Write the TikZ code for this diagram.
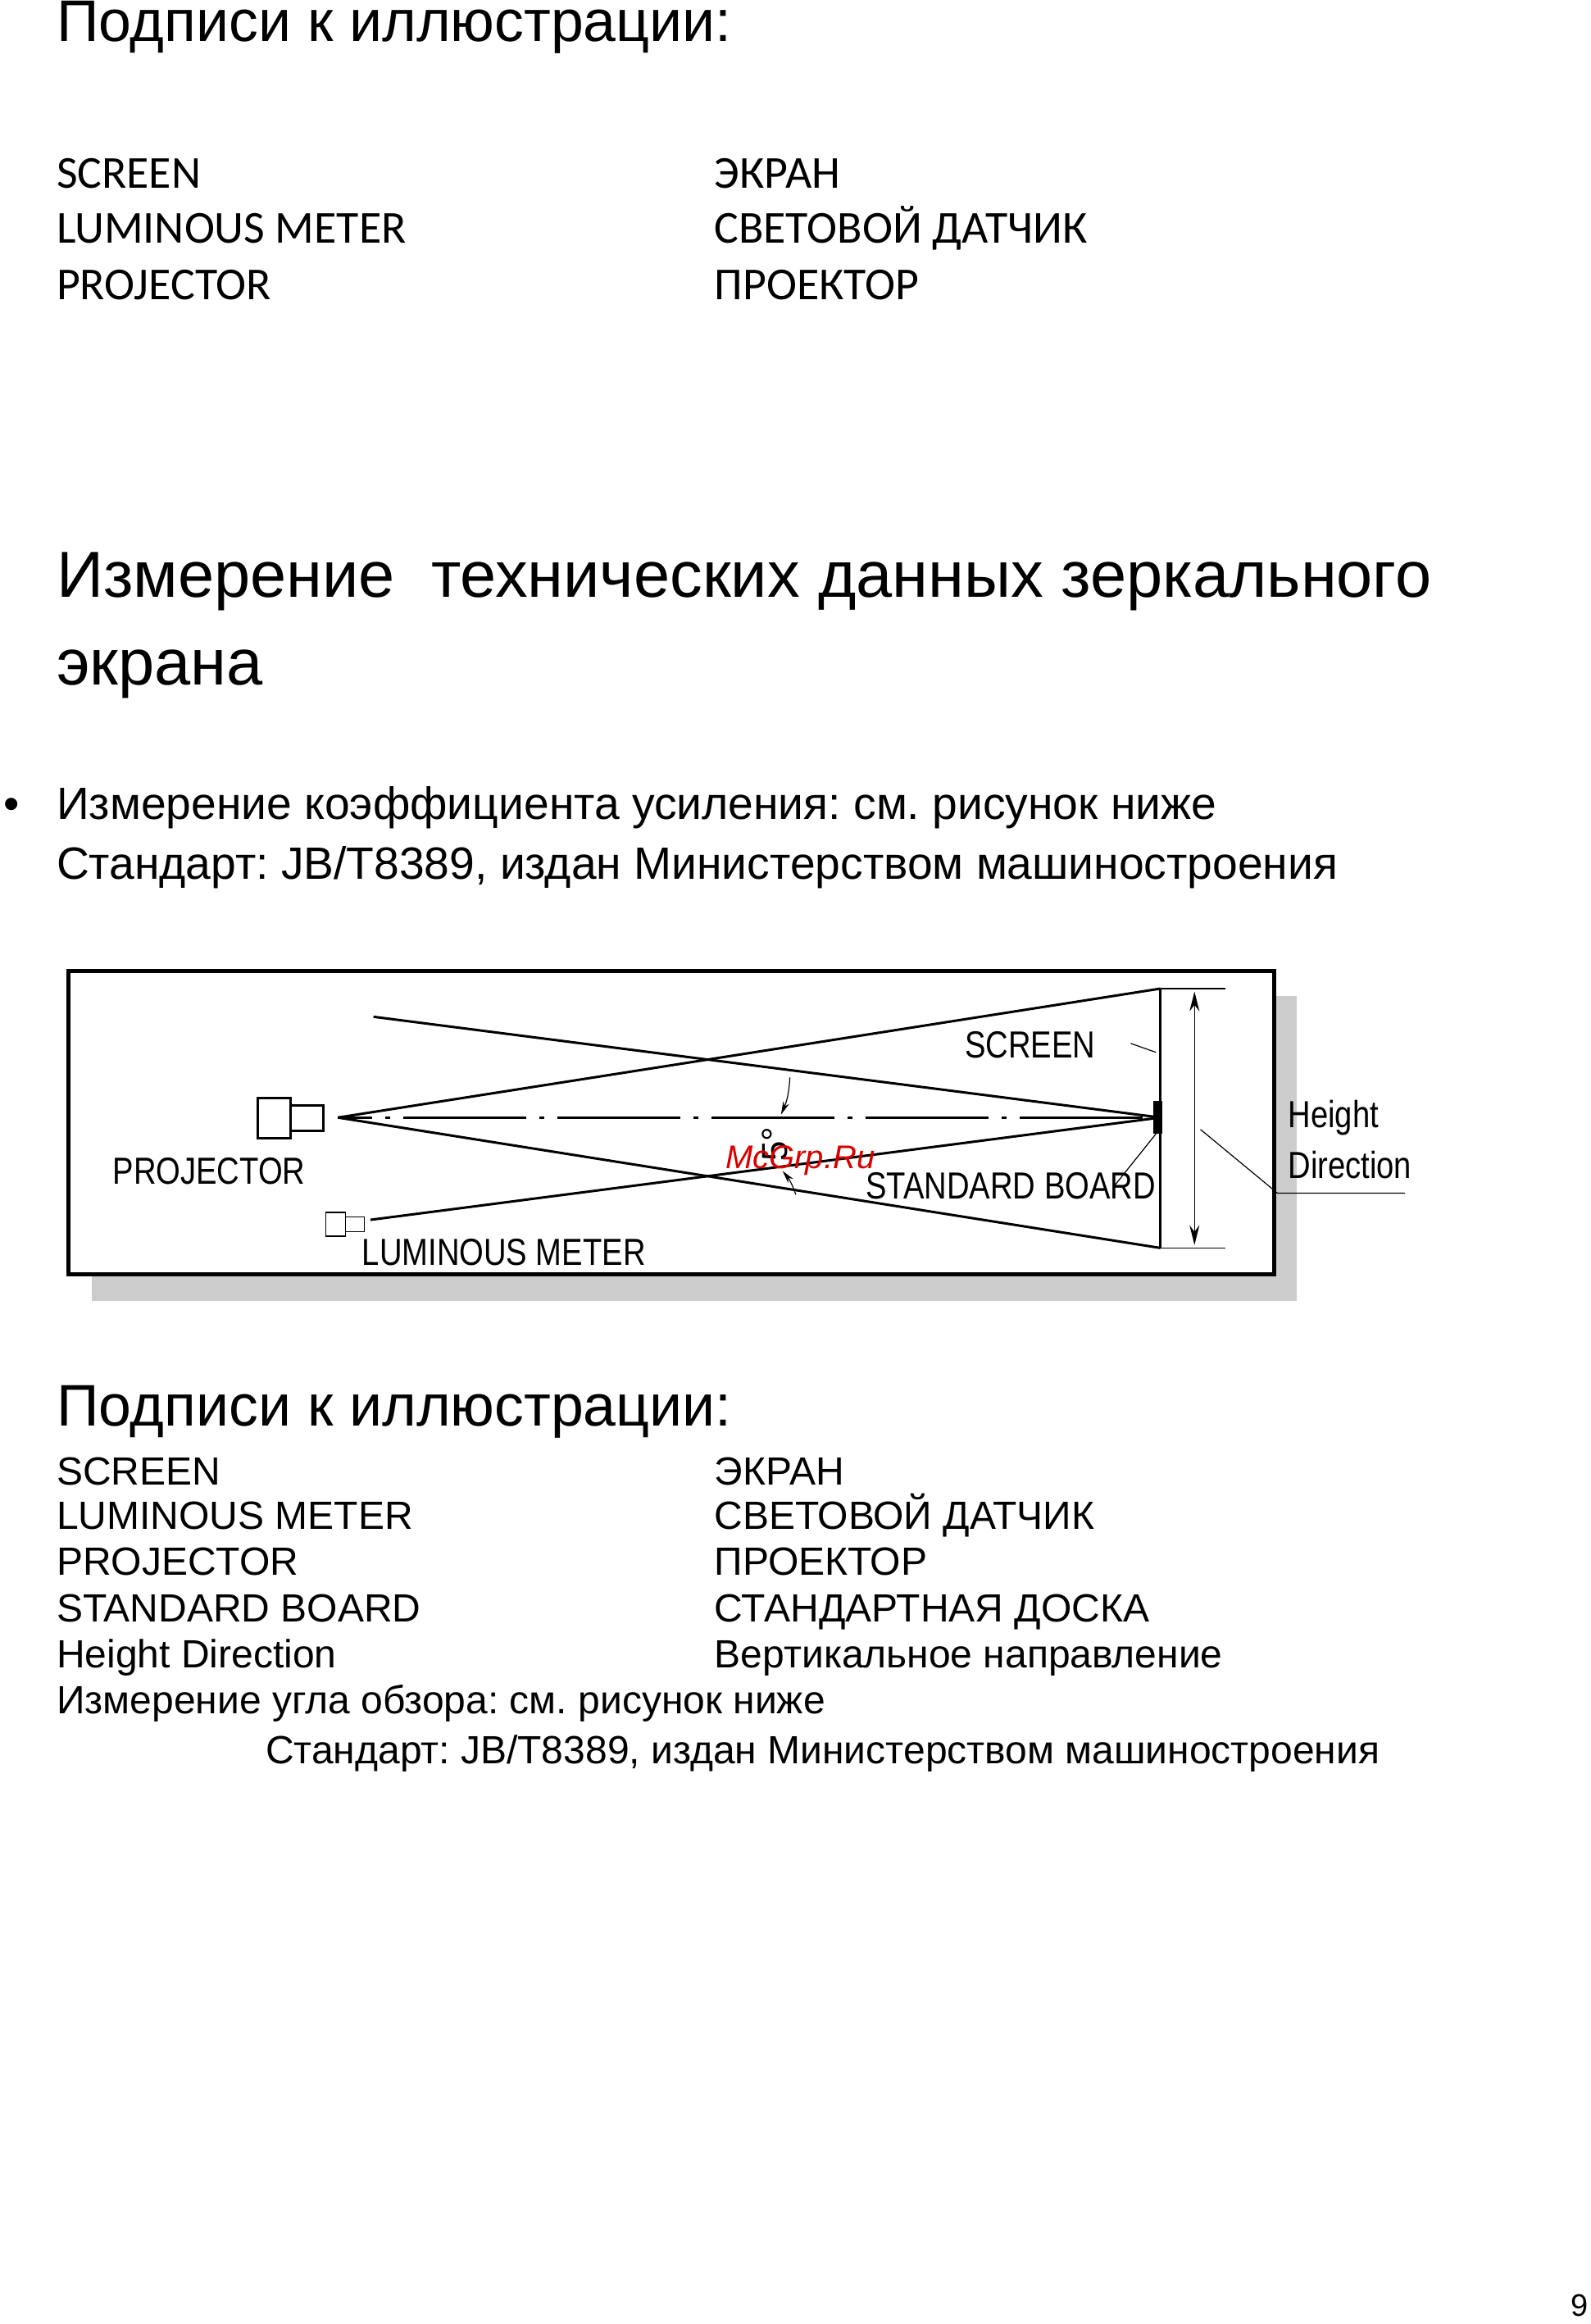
\documentclass[tikz,border=0pt]{standalone}
\usepackage{fontspec}
\setmainfont{Liberation Sans}
\newfontfamily\carl{Carlito}
\usetikzlibrary{arrows.meta}
\frenchspacing
\begin{document}
\begin{tikzpicture}[x=0.904pt,y=-0.904pt,
  txt/.style={anchor=base west,inner sep=0pt},
  big/.style={txt,font=\fontsize{35.8}{40}\selectfont},
  head/.style={txt,font=\fontsize{39.7}{46}\selectfont},
  body/.style={txt,font=\fontsize{27.6}{30}\selectfont},
  lst/.style={txt,font=\carl\fontsize{27.9}{32}\selectfont},
  small/.style={txt,font=\fontsize{24}{26}\selectfont},
  dlab/.style={inner sep=0pt,font=\fontsize{23}{26}\selectfont,xscale=0.83},
  ln/.style={line width=1.5pt},
  thin/.style={line width=0.6pt}]
\useasboundingbox (0,0) rectangle (1073,1568);
% top
\node[big] (t1) at (38,28) {Подписи к иллюстрации:};
\node[lst] (a1) at (38,127) {SCREEN};
\node[lst] (a2) at (38,164) {LUMINOUS METER};
\node[lst] (a3) at (38,202) {PROJECTOR};
\node[lst] (b1) at (482,127) {ЭКРАН};
\node[lst] (b2) at (482,164) {СВЕТОВОЙ ДАТЧИК};
\node[lst] (b3) at (482,202) {ПРОЕКТОР};
\node[head] (h1) at (38,403) {Измерение\ \ технических данных зеркального};
\node[head] (h2) at (38,462) {экрана};
\node[body] (bul) at (2,553) {•};
\node[body] (p1) at (38,553) {Измерение коэффициента усиления: см. рисунок ниже};
\node[body] (p2) at (38,593) {Стандарт: JB/T8389, издан Министерством машиностроения};
% diagram
\fill[black!20] (62,672) rectangle (875,878);
\filldraw[fill=white,line width=2.5pt] (46,655) rectangle (860,860);
\coordinate (A) at (228,754);
\coordinate (St) at (783,667);
\coordinate (Sb) at (783,842);
\coordinate (B) at (783,754);
\coordinate (U) at (252,686);
\coordinate (M) at (250,823);
\draw[ln] (St) -- (Sb);
\draw[ln] (A) -- (St);
\draw[ln] (A) -- (Sb);
\draw[ln] (U) -- (B);
\draw[ln] (M) -- (B);
\draw[ln,dash pattern=on 75pt off 8pt on 3pt off 8pt,dash phase=-40pt] (A) -- (B);
\fill (778,743) rectangle (784,765);
\draw[thin] (783,667) -- (827,667);
\draw[thin] (783,842) -- (827,842);
\coordinate (Ht) at (806,669);
\coordinate (Hb) at (806,840);
\draw[thin,{Stealth[length=12pt,width=6pt]}-{Stealth[length=12pt,width=6pt]}] (Ht) -- (Hb);
% projector icon
\draw[ln,fill=white] (174,741) rectangle (196,768);
\draw[ln,fill=white] (196,746) rectangle (218,763);
% meter icon
\draw[thin,fill=white] (220,818) rectangle (233,834);
\draw[thin,fill=white] (233,821) rectangle (246,831);
% labels
\node[dlab] (pj) at (141,790) {PROJECTOR};
\node[dlab] (lm) at (340,845) {LUMINOUS METER};
\node[dlab] (sc) at (695,705) {SCREEN};
\node[dlab] (sb) at (682,800) {STANDARD BOARD};
\node[dlab,anchor=base west] (hg) at (869,761) {Height};
\node[dlab,anchor=base west] (dr) at (869,795) {Direction};
\draw[thin] (763,704) -- (780,710);
\draw[thin] (780,765) -- (752,800);
\coordinate (ul) at (862,805);
\draw[thin] (810,762) -- (ul) -- (948,805);
% angle
\draw[thin,-{Stealth[length=8pt,width=4pt]}] (533,727) to[bend left=10] (527,752);
\draw[thin,-{Stealth[length=8pt,width=4pt]}] (537,806) to[bend right=10] (528,790);
\node[inner sep=0pt,rotate=90,font=\fontsize{22}{24}\selectfont] (ang) at (523,772) {5°};
\node[inner sep=0pt,text=red!85!black,font=\itshape\fontsize{20}{22}\selectfont] (wm) at (540,783) {McGrp.Ru};
% lower
\node[big] (t2) at (38,962) {Подписи к иллюстрации:};
\node[small] (c1) at (38,1002) {SCREEN};
\node[small] (c2) at (38,1032) {LUMINOUS METER};
\node[small] (c3) at (38,1063) {PROJECTOR};
\node[small] (c4) at (38,1094) {STANDARD BOARD};
\node[small] (c5) at (38,1125) {Height Direction};
\node[small] (d1) at (482,1002) {ЭКРАН};
\node[small] (d2) at (482,1032) {СВЕТОВОЙ ДАТЧИК};
\node[small] (d3) at (482,1063) {ПРОЕКТОР};
\node[small] (d4) at (482,1094) {СТАНДАРТНАЯ ДОСКА};
\node[small] (d5) at (482,1125) {Вертикальное направление};
\node[small] (e1) at (38,1156) {Измерение угла обзора: см. рисунок ниже};
\node[small] (e2) at (179,1190) {Стандарт: JB/T8389, издан Министерством машиностроения};
\node[txt,font=\fontsize{19}{20}\selectfont] (pg) at (1060,1563) {9};
\end{tikzpicture}
\end{document}
